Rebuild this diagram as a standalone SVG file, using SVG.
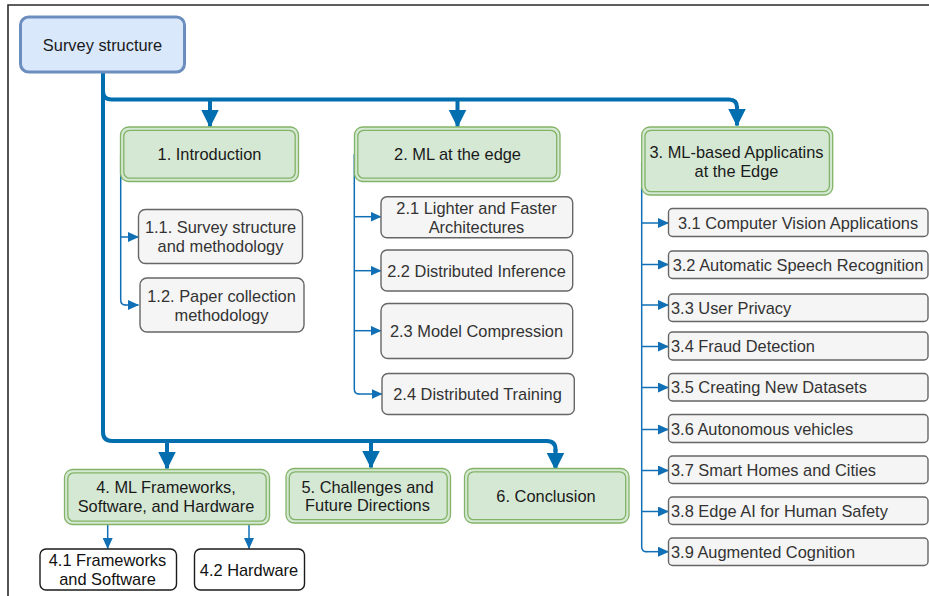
<svg xmlns="http://www.w3.org/2000/svg" width="929" height="596" viewBox="0 0 929 596">
<defs>
<style>
text{font-family:"Liberation Sans",Arial,sans-serif;font-size:16.4px;}
.c{text-anchor:middle;}
.g-o{fill:#d5e8d4;stroke:#82b366;stroke-width:1.3;}
.g-i{fill:none;stroke:#82b366;stroke-width:1.3;}
.gt{fill:#1a1a1a;}
.s{fill:#f5f5f5;stroke:#666666;stroke-width:1.4;}
.st{fill:#333333;}
.w{fill:#ffffff;stroke:#1a1a1a;stroke-width:1.4;}
.thick{fill:none;stroke:#006EAF;stroke-width:4;marker-end:url(#big);}
.trunk{fill:none;stroke:#006EAF;stroke-width:4;}
.thin{fill:none;stroke:#1170b5;stroke-width:1.5;}
.thina{fill:none;stroke:#1170b5;stroke-width:1.5;marker-end:url(#small);}
</style>
<marker id="big" markerUnits="userSpaceOnUse" viewBox="0 0 18 18" markerWidth="18" markerHeight="18" refX="17" refY="9" orient="auto">
<path d="M0,0 L18,9 L0,18 z" fill="#006EAF"/>
</marker>
<marker id="small" markerUnits="userSpaceOnUse" viewBox="0 0 11 10" markerWidth="11" markerHeight="10" refX="10.5" refY="5" orient="auto">
<path d="M0,0 L11,5 L0,10 z" fill="#1170b5"/>
</marker>
</defs>
<rect width="929" height="596" fill="#ffffff"/>
<path d="M8,596 V5 H929" fill="none" stroke="#2a2a2a" stroke-width="1.6"/>

<g id="connectors">
<path class="trunk" d="M103,72 V91 Q103,99.5 111.5,99.5 H729 Q737,99.5 737,107.5 V108"/>
<path class="thick" d="M737,106 V125.5"/>
<path class="thick" d="M210,99.5 V126.5"/>
<path class="thick" d="M457.5,99.5 V126.5"/>
<path class="trunk" d="M103,90 V432 Q103,441 112,441 H547 Q555.5,441 555.5,449.5 V452"/>
<path class="thick" d="M555.5,449 V469.5"/>
<path class="thick" d="M167,441 V468.5"/>
<path class="thick" d="M371,441 V467.5"/>

<path class="thin" d="M120.7,154 V300 Q120.7,305 125.7,305"/>
<path class="thina" d="M125,305 H138.5"/>
<path class="thina" d="M120.7,237 H138.5"/>

<path class="thin" d="M354.3,154 V389 Q354.3,394 359.3,394"/>
<path class="thina" d="M358.5,394 H382"/>
<path class="thina" d="M354.3,216.7 H381"/>
<path class="thina" d="M354.3,270.7 H381"/>
<path class="thina" d="M354.3,330.7 H381"/>

<path class="thin" d="M641.7,162 V546.7 Q641.7,551.7 646.7,551.7"/>
<path class="thina" d="M646,551.7 H668.5"/>
<path class="thina" d="M641.7,223 H668.5"/>
<path class="thina" d="M641.7,264.5 H668.5"/>
<path class="thina" d="M641.7,305 H668.5"/>
<path class="thina" d="M641.7,346.5 H668.5"/>
<path class="thina" d="M641.7,387.5 H668.5"/>
<path class="thina" d="M641.7,429.5 H668.5"/>
<path class="thina" d="M641.7,470.5 H668.5"/>
<path class="thina" d="M641.7,511.5 H668.5"/>

<path class="thina" d="M107.7,524.5 V548.5"/>
<path class="thina" d="M249,524.5 V548.5"/>
</g>

<g id="survey">
<rect x="20.5" y="17" width="164" height="55" rx="8" fill="#dae8fc" stroke="#6c8ebf" stroke-width="3"/>
<text class="c" x="102.5" y="50.5" fill="#1a1a1a">Survey structure</text>
</g>

<g id="n1">
<rect class="g-o" x="120.5" y="127" width="178" height="54.5" rx="8"/>
<rect class="g-i" x="123.8" y="130.3" width="171.4" height="47.9" rx="6"/>
<text class="c gt" x="209.5" y="159.5">1. Introduction</text>
</g>
<g id="n2">
<rect class="g-o" x="354.5" y="127" width="205.5" height="54.5" rx="8"/>
<rect class="g-i" x="357.8" y="130.3" width="198.9" height="47.9" rx="6"/>
<text class="c gt" x="457.5" y="159.5">2. ML at the edge</text>
</g>
<g id="n3">
<rect class="g-o" x="641.7" y="127" width="191" height="68" rx="8"/>
<rect class="g-i" x="645" y="130.3" width="184.4" height="61.4" rx="6"/>
<text class="c gt" x="736.5" y="158">3. ML-based Applicatins</text>
<text class="c gt" x="736.5" y="176.5">at the Edge</text>
</g>

<g id="n1-1">
<rect class="s" x="138.5" y="209.5" width="164" height="54" rx="7"/>
<text class="c st" x="220.5" y="233">1.1. Survey structure</text>
<text class="c st" x="220.5" y="252">and methodology</text>
</g>
<g id="n1-2">
<rect class="s" x="140" y="278" width="164" height="54" rx="7"/>
<text class="c st" x="221.5" y="302">1.2. Paper collection</text>
<text class="c st" x="221.5" y="321">methodology</text>
</g>

<g id="n2-1">
<rect class="s" x="381" y="196.7" width="191.7" height="41" rx="6"/>
<text class="c st" x="476.5" y="214">2.1 Lighter and Faster</text>
<text class="c st" x="476.5" y="232.5">Architectures</text>
</g>
<g id="n2-2">
<rect class="s" x="381" y="250" width="191.7" height="41" rx="6"/>
<text class="c st" x="476.5" y="276.5">2.2 Distributed Inference</text>
</g>
<g id="n2-3">
<rect class="s" x="381" y="303.5" width="191.7" height="55" rx="7"/>
<text class="c st" x="476.5" y="336.5">2.3 Model Compression</text>
</g>
<g id="n2-4">
<rect class="s" x="382" y="373.5" width="192.3" height="41" rx="6"/>
<text class="c st" x="477.5" y="400">2.4 Distributed Training</text>
</g>

<g id="n3-1"><rect class="s" x="668.5" y="208.5" width="259.5" height="28" rx="4"/><text class="c st" x="798" y="228.5">3.1 Computer Vision Applications</text></g>
<g id="n3-2"><rect class="s" x="668.5" y="251" width="259.5" height="27.5" rx="4"/><text class="c st" x="798" y="270.5">3.2 Automatic Speech Recognition</text></g>
<g id="n3-3"><rect class="s" x="668.5" y="294" width="259.5" height="27.5" rx="4"/><text class="st" x="671" y="313.5">3.3 User Privacy</text></g>
<g id="n3-4"><rect class="s" x="668.5" y="332" width="259.5" height="28" rx="4"/><text class="st" x="671" y="352">3.4 Fraud Detection</text></g>
<g id="n3-5"><rect class="s" x="668.5" y="373.5" width="259.5" height="27.5" rx="4"/><text class="st" x="671" y="393">3.5 Creating New Datasets</text></g>
<g id="n3-6"><rect class="s" x="668.5" y="414.5" width="259.5" height="28" rx="4"/><text class="st" x="671" y="434.5">3.6 Autonomous vehicles</text></g>
<g id="n3-7"><rect class="s" x="668.5" y="456" width="259.5" height="27.5" rx="4"/><text class="st" x="671" y="475.5">3.7 Smart Homes and Cities</text></g>
<g id="n3-8"><rect class="s" x="668.5" y="497" width="259.5" height="27.5" rx="4"/><text class="st" x="671" y="516.5">3.8 Edge AI for Human Safety</text></g>
<g id="n3-9"><rect class="s" x="668.5" y="538" width="259.5" height="27.5" rx="4"/><text class="st" x="671" y="557.5">3.9 Augmented Cognition</text></g>

<g id="n4">
<rect class="g-o" x="64.5" y="469.5" width="205" height="55" rx="8"/>
<rect class="g-i" x="67.8" y="472.8" width="198.4" height="48.4" rx="6"/>
<text class="c gt" x="166" y="493">4. ML Frameworks,</text>
<text class="c gt" x="166" y="512">Software, and Hardware</text>
</g>
<g id="n5">
<rect class="g-o" x="286" y="468.5" width="164.5" height="54.5" rx="8"/>
<rect class="g-i" x="289.3" y="471.8" width="157.9" height="47.9" rx="6"/>
<text class="c gt" x="367.5" y="492.5">5. Challenges and</text>
<text class="c gt" x="367.5" y="511">Future Directions</text>
</g>
<g id="n6">
<rect class="g-o" x="464.5" y="468.5" width="164.5" height="54.5" rx="8"/>
<rect class="g-i" x="467.8" y="471.8" width="157.9" height="47.9" rx="6"/>
<text class="c gt" x="546" y="502">6. Conclusion</text>
</g>

<g id="n4-1">
<rect class="w" x="40" y="549" width="136.5" height="41" rx="6"/>
<text class="c" x="107.5" y="566" fill="#111">4.1 Frameworks</text>
<text class="c" x="107.5" y="584.5" fill="#111">and Software</text>
</g>
<g id="n4-2">
<rect class="w" x="194.5" y="549" width="110" height="41" rx="6"/>
<text class="c" x="249" y="576" fill="#111">4.2 Hardware</text>
</g>
</svg>
